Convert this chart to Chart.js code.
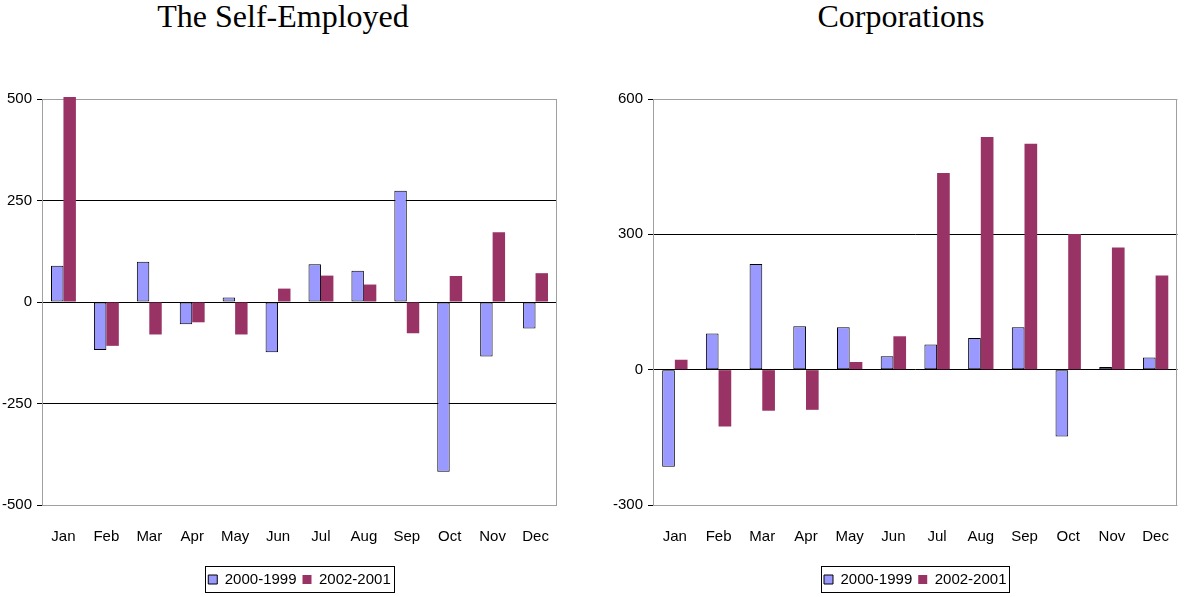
<!DOCTYPE html>
<html>
<head>
<meta charset="utf-8">
<script src="https://cdn.jsdelivr.net/npm/chart.js@4.4.1/dist/chart.umd.min.js"></script>
<style>
  html, body { margin: 0; padding: 0; background: #fff; }
  #wrap { position: relative; width: 1192px; height: 597px; overflow: hidden; }
  .title {
    position: absolute; top: -2px; width: 400px; text-align: center;
    font-family: 'Liberation Serif', 'Times New Roman', serif; font-size: 32px;
    line-height: 36px; color: #000; white-space: nowrap;
  }
  canvas { position: absolute; top: 0; }
</style>
</head>
<body>
<div id="wrap">
  <div class="title" style="left:83px">The Self-Employed</div>
  <div class="title" style="left:701px">Corporations</div>
  <canvas id="chartSelf" width="596" height="597" style="left:0"></canvas>
  <canvas id="chartCorp" width="596" height="597" style="left:596px"></canvas>
</div>
<script>
  // ---------- Data ----------
  const months = ['Jan','Feb','Mar','Apr','May','Jun','Jul','Aug','Sep','Oct','Nov','Dec'];
  const seriesNames = ['2000-1999', '2002-2001'];

  const self2000 = [89, -118, 99, -55, 11, -124, 93, 77, 274, -418, -134, -65];
  const self2002 = [505, -108, -80, -50, -80, 33, 65, 43, -77, 64, 172, 71];
  const selfTicks = [-500, -250, 0, 250, 500];

  const corp2000 = [-215, 80, 234, 96, 94, 30, 56, 70, 94, -148, 6, 27];
  const corp2002 = [22, -126, -91, -89, 17, 74, 436, 516, 501, 301, 271, 209];
  const corpTicks = [-300, 0, 300, 600];

  const BLUE = '#9999ff';
  const PLUM = '#993366';
  const SANS = "'Liberation Sans', Arial, sans-serif";

  // frame round the plot area (gray, like Excel)
  const frame = {
    id: 'frame',
    beforeDatasetsDraw(chart){
      const a = chart.chartArea, c = chart.ctx;
      c.save();
      c.strokeStyle = '#a0a0a0';
      c.lineWidth = 1;
      c.strokeRect(Math.round(a.left) + 0.5, Math.round(a.top) + 0.5, Math.round(a.right - a.left) - 1, Math.round(a.bottom - a.top));
      c.restore();
    }
  };

  // black box round the legend
  const legendBox = {
    id: 'legendBox',
    afterDraw(chart){
      const boxes = chart.legend && chart.legend.legendHitBoxes;
      if (!boxes || !boxes.length) return;
      const first = boxes[0], last = boxes[boxes.length - 1];
      const c = chart.ctx;
      const x0 = Math.round(first.left) - 3, x1 = Math.round(last.left + last.width) + 3;
      const y0 = Math.round(first.top) - 6, y1 = Math.round(first.top + first.height) + 5;
      c.save();
      c.strokeStyle = '#000';
      c.lineWidth = 1;
      c.strokeRect(x0 + 0.5, y0 + 0.5, x1 - x0, y1 - y0);
      c.restore();
    }
  };

  function makeChart(id, a, b, ticks, yWidth, padRight){
    const lo = ticks[0], hi = ticks[ticks.length - 1];
    return new Chart(document.getElementById(id), {
      type: 'bar',
      data: {
        labels: months,
        datasets: [
          { label: seriesNames[0], data: a, backgroundColor: BLUE, borderColor: '#000', borderWidth: 1, borderSkipped: false },
          { label: seriesNames[1], data: b, backgroundColor: PLUM, borderColor: PLUM, borderWidth: 0 }
        ]
      },
      options: {
        responsive: false,
        animation: false,
        clip: false,
        categoryPercentage: 0.58,
        barPercentage: 1,
        layout: { padding: { top: 99, right: padRight, bottom: 0, left: 0 } },
        plugins: {
          title: { display: false },
          tooltip: { enabled: false },
          legend: {
            position: 'bottom',
            fullSize: false,
            labels: {
              color: '#000',
              font: { family: SANS, size: 15 },
              boxWidth: 9, boxHeight: 9,
              padding: 6
            }
          }
        },
        scales: {
          x: {
            grid: { display: false, drawTicks: false },
            border: { display: false },
            ticks: { color: '#000', font: { family: SANS, size: 15 }, padding: 23, maxRotation: 0 },
            afterFit: (s) => { s.height = 61; }
          },
          y: {
            min: lo, max: hi,
            afterBuildTicks: (s) => { s.ticks = ticks.map(v => ({ value: v })); },
            afterFit: (s) => { s.width = yWidth; },
            grid: {
              color: (ctx) => (ctx.tick && (ctx.tick.value === lo || ctx.tick.value === hi)) ? '#a0a0a0' : '#000',
              tickColor: '#000',
              tickLength: 5,
              lineWidth: 1
            },
            border: { display: true, color: '#404040', width: 1 },
            ticks: { color: '#000', font: { family: SANS, size: 15 }, padding: 5 }
          }
        }
      },
      plugins: [frame, legendBox]
    });
  }

  makeChart('chartSelf', self2000, self2002, selfTicks, 42, 39);
  makeChart('chartCorp', corp2000, corp2002, corpTicks, 57, 1);
</script>
</body>
</html>
